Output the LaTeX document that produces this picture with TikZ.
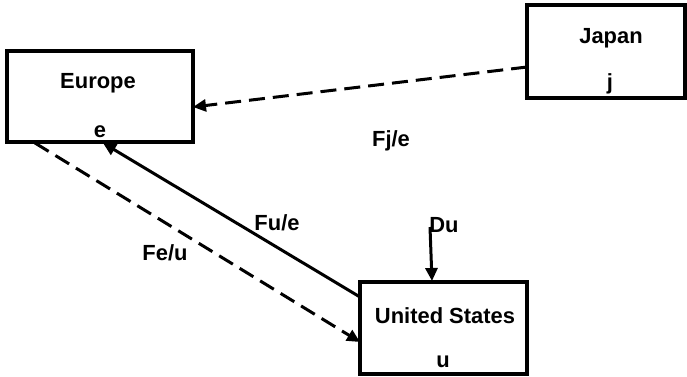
\documentclass[tikz,border=0pt]{standalone}
\usepackage{fontspec}
\setmainfont{Liberation Sans}
\usetikzlibrary{arrows.meta}
\tikzset{
  region/.style={draw, line width=3.3bp, rectangle, inner sep=0pt},
  txt/.style={font=\fontsize{22}{26}\selectfont\bfseries, anchor=base, inner sep=0pt},
  flow/.style={line width=3bp, -{Triangle[length=13bp,width=12bp]}},
  dashflow/.style={flow, dash pattern=on 16bp off 8bp},
}
\begin{document}
\begin{tikzpicture}[x=1bp,y=-1bp]
  \useasboundingbox (0,0) rectangle (687,376);

  % region boxes
  \node[region, minimum width=186bp, minimum height=91bp] (eu) at (100,96.5) {};
  \node[region, minimum width=158bp, minimum height=93bp] (jp) at (606,51.5) {};
  \node[region, minimum width=167bp, minimum height=92bp] (us) at (443.5,328) {};

  % box texts
  \node[txt] (eut) at (98,88) {Europe};
  \node[txt] (eus) at (100,137) {e};
  \node[txt] (jpt) at (611,43) {Japan};
  \node[txt] (jps) at (610,89) {j};
  \node[txt] (ust) at (445,323) {United States};
  \node[txt] (uss) at (443,367) {u};

  % connector end points on the box borders
  \coordinate (jpW) at (527,67);
  \coordinate (euE) at (193,107);
  \coordinate (usW1) at (360,297);
  \coordinate (euS1) at (103,143);
  \coordinate (euS2) at (35,143);
  \coordinate (usW2) at (360,342);
  \coordinate (duTop) at (430,227);
  \coordinate (usN) at (432,281);

  % flows
  \draw[dashflow] (jpW) -- (euE);
  \draw[flow] (usW1) -- (euS1);
  \draw[dashflow] (euS2) -- (usW2);
  \draw[flow] (duTop) -- (usN);

  % flow labels
  \node[txt] (lje) at (391,146) {Fj/e};
  \node[txt] (lue) at (277,230) {Fu/e};
  \node[txt] (leu) at (165,260) {Fe/u};
  \node[txt] (ldu) at (444,232) {Du};
\end{tikzpicture}
\end{document}
